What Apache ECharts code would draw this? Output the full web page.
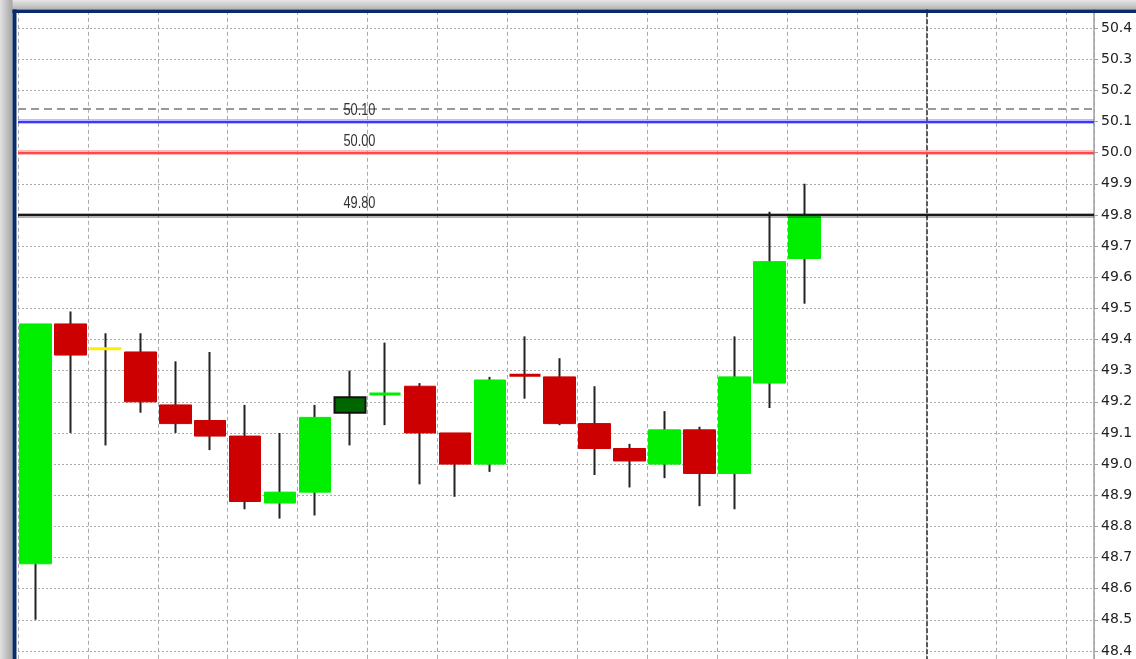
<!DOCTYPE html>
<html>
<head>
<meta charset="utf-8">
<script src="https://cdn.jsdelivr.net/npm/echarts@6/dist/echarts.min.js"></script>
<style>
html,body{margin:0;padding:0;background:#fff;overflow:hidden;}
#c{width:1136px;height:659px;}
</style>
</head>
<body>
<div id="c"></div>
<script>
// ---- data ----
const bars   = [0,1,2,3,4,5,6,7,8,9,10,11,12,13,14,15,16,17,18,19,20,21,22];
const opens  = [48.68,49.45,49.37,49.36,49.19,49.14,49.09,48.875,48.91,49.165,49.225,49.25,49.10,49.00,49.285,49.28,49.13,49.05,49.00,49.11,48.97,49.26,49.66];
const closes = [49.45,49.35,49.37,49.20,49.13,49.09,48.88,48.91,49.15,49.215,49.225,49.10,49.00,49.27,49.285,49.13,49.05,49.01,49.11,48.97,49.28,49.65,49.795];
const lows   = [48.50,49.10,49.06,49.165,49.10,49.045,48.855,48.825,48.835,49.06,49.125,48.935,48.895,48.975,49.21,49.125,48.965,48.925,48.955,48.865,48.855,49.18,49.515];
const highs  = [49.45,49.49,49.42,49.42,49.33,49.36,49.19,49.10,49.19,49.30,49.39,49.26,49.10,49.28,49.41,49.34,49.25,49.065,49.17,49.12,49.41,49.81,49.90];
const dashedLevel = 50.14;
const blueLevel   = 50.10;
const redLevel    = 50.00;
const blackLevel  = 49.80;
const levelLabels = ['50.10','50.00','49.80'];
const levelLabelValues = [50.10, 50.00, 49.80];
const separatorX = 25.5;
const labelX = 9.27;
const yMin = 48.3, yMax = 50.5, yStep = 0.1;
const xMin = -0.5, xMax = 30.287, xStep = 2;

// ---- styling ----
const UP = '#00ee00', DOWN = '#cc0000', WICK = '#222222';
const special = {
  2:  {fill:'#ffee00', border:'#ffee00', bw:3},
  9:  {fill:'#006600', border:'#111111', bw:2},
  10: {fill:UP, border:UP, bw:3},
  14: {fill:DOWN, border:DOWN, bw:3}
};

const wickData = bars.map((x,i)=>[x, opens[i], closes[i], lows[i], highs[i]]);
const bodyData = bars.map((x,i)=>{
  const o = opens[i], c = closes[i];
  const item = {value:[x, o, c, Math.min(o,c), Math.max(o,c)]};
  const s = special[i];
  if (s) item.itemStyle = {color:s.fill, color0:s.fill, borderColor:s.border, borderColor0:s.border, borderColorDoji:s.border, borderWidth:s.bw};
  return item;
});

const chart = echarts.init(document.getElementById('c'), null, {renderer:'canvas'});

const lvl = (v, color, width, type) => ({yAxis:v, lineStyle:{color:color, width:width, type:type||'solid'}});

const frameGraphics = [
  {type:'rect', z:100, silent:true, shape:{x:0, y:0, width:1136, height:9.5},
   style:{fill:new echarts.graphic.LinearGradient(0,0,0,1,[{offset:0,color:'#e6e6e6'},{offset:1,color:'#b4b4b4'}])}},
  {type:'rect', z:100, silent:true, shape:{x:0, y:0, width:12.5, height:659},
   style:{fill:new echarts.graphic.LinearGradient(0,0,1,0,[{offset:0,color:'#e2e2e2'},{offset:1,color:'#a4a4a4'}])}},
  {type:'rect', z:101, silent:true, shape:{x:12.5, y:9.5, width:1123.5, height:3.5}, style:{fill:'#0b2a6b'}},
  {type:'rect', z:101, silent:true, shape:{x:12.5, y:9.5, width:4, height:650}, style:{fill:'#0b2a6b'}}
];

chart.setOption({
  animation:false,
  backgroundColor:'#ffffff',
  grid:{left:18, right:42, top:-3.15, bottom:-23.15, containLabel:false, outerBoundsMode:'none'},
  xAxis:{
    type:'value', min:xMin, max:xMax, interval:xStep,
    axisLine:{show:false, onZero:false}, axisTick:{show:false}, axisLabel:{show:false},
    splitLine:{show:true, lineStyle:{color:'#aaaaaa', width:1, type:[4,3]}}
  },
  yAxis:{
    type:'value', position:'right', min:yMin, max:yMax, interval:yStep,
    axisLine:{show:true, onZero:false, lineStyle:{color:'#a0a0a0', width:1.5}},
    axisTick:{show:true, length:4, lineStyle:{color:'#a0a0a0'}},
    axisLabel:{
      show:true, margin:7, color:'#222', fontSize:14, fontFamily:'DejaVu Sans',
      formatter:function(v){ return (v < 48.35 || v > 50.45) ? '' : v.toFixed(1); }
    },
    splitLine:{show:true, lineStyle:{color:'#aaaaaa', width:1, type:[2,2]}}
  },
  series:[
    {
      name:'wicks', type:'candlestick', data:wickData, encode:{x:0, y:[1,2,3,4]},
      barWidth:1, silent:true, z:2,
      itemStyle:{color:WICK, color0:WICK, borderColor:WICK, borderColor0:WICK, borderColorDoji:WICK, borderWidth:2}
    },
    {
      name:'bodies', type:'candlestick', data:bodyData, encode:{x:0, y:[1,2,3,4]},
      barWidth:32, silent:true, z:3,
      itemStyle:{color:UP, color0:DOWN, borderColor:UP, borderColor0:DOWN, borderColorDoji:UP, borderWidth:1},
      markLine:{
        silent:true, symbol:['none','none'], label:{show:false}, animation:false,
        data:[
          {xAxis:separatorX, lineStyle:{color:'#5a5a5a', width:2, type:[5,2]}},
          lvl(dashedLevel, '#999999', 2, [8,5]),
          lvl(blueLevel, 'rgba(90,90,255,0.40)', 5),
          lvl(blueLevel, '#3838ff', 2),
          lvl(redLevel, 'rgba(255,100,100,0.45)', 5),
          lvl(redLevel, '#ff4848', 2),
          lvl(blackLevel, 'rgba(0,0,0,0.30)', 5),
          lvl(blackLevel, '#1a1a1a', 2)
        ]
      }
    }
  ],
  graphic: frameGraphics
});

// level labels: positioned through the chart's own scales, drawn condensed
const labelGraphics = levelLabels.map((t,i)=>{
  const p = chart.convertToPixel({gridIndex:0}, [labelX, levelLabelValues[i]]);
  return {type:'text', z:50, silent:true, x:p[0], y:p[1]-3, scaleX:0.8, scaleY:1,
    style:{text:t, fill:'#333', font:'16px "Liberation Sans", Arial, sans-serif', textAlign:'center', textVerticalAlign:'bottom'}};
});
chart.setOption({graphic: frameGraphics.concat(labelGraphics)});
</script>
</body>
</html>
